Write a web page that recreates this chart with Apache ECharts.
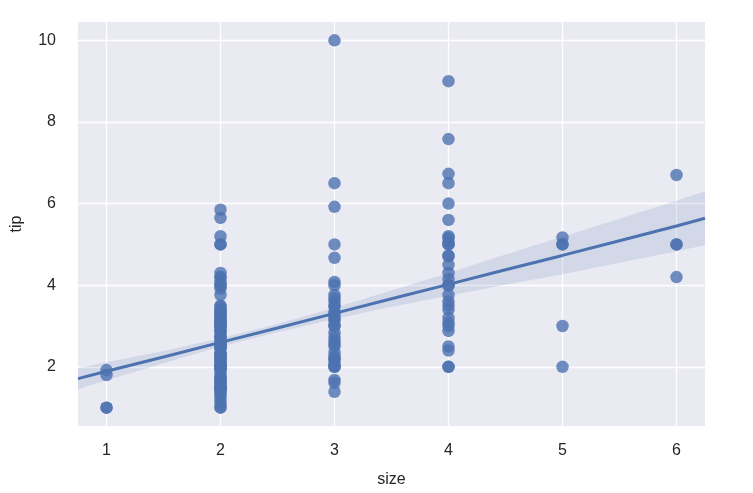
<!DOCTYPE html>
<html>
<head>
<meta charset="utf-8">
<script src="https://cdn.jsdelivr.net/npm/echarts@6/dist/echarts.min.js"></script>
<style>
html,body{margin:0;padding:0;background:#fff;}
#chart{width:753px;height:493px;}
</style>
</head>
<body>
<div id="chart"></div>
<script>
// ---- data ----
const size1 = [1.0, 1.0, 1.8, 1.92];
const size2 = [5.85, 5.65, 5.2, 5.0, 5.0, 4.3, 4.2, 4.19, 4.08, 4.0, 4.0, 3.92, 3.76, 3.5, 3.48, 3.4, 3.39, 3.35, 3.3, 3.27,
  3.25, 3.23, 3.18, 3.15, 3.11, 3.08, 3.06, 3.02, 3.0, 3.0, 3.0, 2.92, 2.88, 2.83, 2.75, 2.72, 2.71, 2.64, 2.6, 2.55,
  2.54, 2.5, 2.5, 2.47, 2.45, 2.34, 2.31, 2.3, 2.24, 2.23, 2.2, 2.18, 2.12, 2.1, 2.05, 2.03, 2.0, 2.0, 2.0, 1.98,
  1.97, 1.96, 1.9, 1.83, 1.76, 1.73, 1.71, 1.66, 1.64, 1.58, 1.56, 1.5, 1.5, 1.48, 1.47, 1.45, 1.44, 1.36, 1.32, 1.25,
  1.17, 1.1, 1.01, 1.0];
const size3 = [10.0, 6.5, 5.92, 5.0, 4.67, 4.08, 4.0, 3.76, 3.68, 3.6, 3.5, 3.48, 3.35, 3.31, 3.23, 3.18, 3.12, 3.0, 3.0,
  2.83, 2.72, 2.64, 2.56, 2.5, 2.34, 2.24, 2.2, 2.18, 2.09, 2.01, 2.0, 2.0, 1.68, 1.61, 1.39];
const size4 = [9.0, 7.58, 6.73, 6.5, 6.0, 5.6, 5.2, 5.16, 5.07, 5.0, 5.0, 4.73, 4.71, 4.5, 4.3, 4.15, 4.0, 4.0, 3.76, 3.6,
  3.5, 3.4, 3.2, 3.09, 3.0, 2.88, 2.5, 2.4, 2.0, 2.0];
const size5 = [5.17, 5.0, 5.0, 3.0, 2.0];
const size6 = [6.7, 5.0, 5.0, 4.2];

// regression line and confidence band
const fitX = [0.75, 1, 1.5, 2, 2.5, 3, 3.5, 4, 4.5, 5, 5.5, 6, 6.25];
const fitY = [1.71, 1.89, 2.24, 2.6, 2.95, 3.31, 3.67, 4.02, 4.38, 4.73, 5.09, 5.45, 5.64];
const ciLow = [1.45, 1.67, 2.09, 2.5, 2.85, 3.17, 3.47, 3.74, 4.01, 4.27, 4.55, 4.83, 4.98];
const ciHigh = [1.97, 2.11, 2.39, 2.7, 3.05, 3.45, 3.87, 4.3, 4.75, 5.19, 5.63, 6.07, 6.3];

const xTicks = [1, 2, 3, 4, 5, 6];
const yTicks = [2, 4, 6, 8, 10];

// ---- build ----
const groups = [[1, size1], [2, size2], [3, size3], [4, size4], [5, size5], [6, size6]];
const points = [];
groups.forEach(([s, arr]) => arr.forEach(v => points.push([s, v])));
const fitLine = fitX.map((x, i) => [x, fitY[i]]);
const band = fitX.map((x, i) => [x, ciLow[i], ciHigh[i]]);

const blue = '#4c72b0';
const txt = '#262626';
const font = '"Liberation Sans", Arial, sans-serif';

const chart = echarts.init(document.getElementById('chart'), null, {renderer: 'canvas'});
chart.setOption({
  animation: false,
  backgroundColor: '#ffffff',
  grid: {left: 78, right: 48, top: 22, bottom: 66, backgroundColor: '#eaeaf2', show: true, borderWidth: 0},
  xAxis: {
    type: 'value', min: 0.75, max: 6.25,
    name: 'size', nameLocation: 'middle', nameGap: 46,
    nameTextStyle: {color: txt, fontSize: 16, fontFamily: font},
    axisLine: {show: false}, axisTick: {show: false, customValues: xTicks},
    axisLabel: {customValues: xTicks, color: txt, fontSize: 16, fontFamily: font, margin: 17},
    splitLine: {show: true, lineStyle: {color: '#ffffff', width: 1.3}}
  },
  yAxis: {
    type: 'value', min: 0.55, max: 10.45,
    name: 'tip', nameLocation: 'middle', nameGap: 53, nameRotate: 90,
    nameTextStyle: {color: txt, fontSize: 16, fontFamily: font},
    axisLine: {show: false}, axisTick: {show: false, customValues: yTicks},
    axisLabel: {customValues: yTicks, color: txt, fontSize: 16, fontFamily: font, margin: 22},
    splitLine: {show: true, lineStyle: {color: '#ffffff', width: 1.3}}
  },
  series: [
    {
      type: 'custom',
      data: [0],
      z: 1,
      renderItem: function (params, api) {
        const pts = [];
        band.forEach(b => pts.push(api.coord([b[0], b[2]])));
        for (let i = band.length - 1; i >= 0; i--) pts.push(api.coord([band[i][0], band[i][1]]));
        return {type: 'polygon', shape: {points: pts}, style: {fill: 'rgba(76,114,176,0.15)'}};
      },
      silent: true
    },
    {
      type: 'scatter',
      data: points,
      symbolSize: 12.5,
      z: 2,
      itemStyle: {color: blue, opacity: 0.8}
    },
    {
      type: 'line',
      data: fitLine,
      showSymbol: false,
      z: 3,
      lineStyle: {color: blue, width: 3},
      itemStyle: {color: blue}
    }
  ]
});
</script>
</body>
</html>
